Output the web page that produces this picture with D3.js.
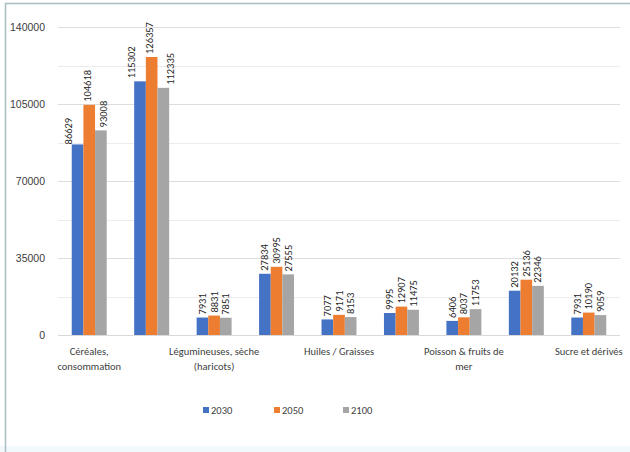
<!DOCTYPE html>
<html>
<head>
<meta charset="utf-8">
<script src="https://cdn.jsdelivr.net/npm/d3@7"></script>
<style>
  html, body { margin: 0; padding: 0; background: #ffffff; }
  svg { display: block; font-family: Calibri, Carlito, "Liberation Sans", "Open Sans", sans-serif; }
</style>
</head>
<body>
<svg id="chart" width="630" height="452"></svg>
<script>
// Food demand projections by product group
const categories = [
  "Céréales, consommation",
  "Racines & tubercules",
  "Légumineuses, sèche (haricots)",
  "Légumes",
  "Huiles / Graisses",
  "Viandes",
  "Poisson & fruits de mer",
  "Lait & produits laitiers",
  "Sucre et dérivés"
];
// Category labels as wrapped on the axis (only every other one fits)
const axisLabels = [
  ["Céréales,", "consommation"],
  [],
  ["Légumineuses, sèche", "(haricots)"],
  [],
  ["Huiles / Graisses"],
  [],
  ["Poisson & fruits de", "mer"],
  [],
  ["Sucre et dérivés"]
];
const seriesNames = ["2030", "2050", "2100"];
const values2030 = [86629, 115302, 7931, 27834, 7077, 9995, 6406, 20132, 7931];
const values2050 = [104618, 126357, 8831, 30995, 9171, 12907, 8037, 25136, 10190];
const values2100 = [93008, 112335, 7851, 27555, 8153, 11475, 11753, 22346, 9059];
const yTicks = [0, 35000, 70000, 105000, 140000];
const colors = ["#4472C4", "#ED7D31", "#A5A5A5"];

// Hand-placed label offsets for the two tall groups, where labels would collide
const labelNudge = {
  "0-0": [-9, 3], "0-1": [-1.5, 0], "0-2": [2.5, 0],
  "1-0": [-9, 0], "1-1": [-2, 0], "1-2": [7, 0]
};

const series = [values2030, values2050, values2100];
const svg = d3.select("#chart");

// Frame lines
svg.append("rect").attr("x", 0).attr("y", 446).attr("width", 630).attr("height", 6).attr("fill", "#f2f9fc");
svg.append("line").attr("x1", 5).attr("x2", 630).attr("y1", 3.5).attr("y2", 3.5)
  .attr("stroke", "#a9bcc4").attr("stroke-width", 1.5);
svg.append("line").attr("x1", 5.5).attr("x2", 5.5).attr("y1", 3).attr("y2", 452)
  .attr("stroke", "#a9bcc4").attr("stroke-width", 1.5);

const plot = { left: 58, right: 620, top: 27, bottom: 335 };

const x = d3.scaleBand().domain(categories).range([plot.left, plot.right])
  .paddingInner(0.44).paddingOuter(0.22);
const xs = d3.scaleBand().domain(seriesNames).range([0, x.bandwidth()]);
const y = d3.scaleLinear().domain([0, 140000]).range([plot.bottom, plot.top]);

// Gridlines (major and minor)
const gridVals = d3.range(17500, 140001, 17500);
svg.append("g").selectAll("line").data(gridVals).join("line")
  .attr("x1", plot.left).attr("x2", plot.right)
  .attr("y1", d => Math.round(y(d)) + 0.5).attr("y2", d => Math.round(y(d)) + 0.5)
  .attr("stroke", d => d % 35000 === 0 ? "#dedede" : "#ececec").attr("stroke-width", 1.2);

// Y axis labels
const yAxis = d3.axisLeft(y).tickValues(yTicks).tickSize(0).tickPadding(13).tickFormat(d3.format("d"));
const yg = svg.append("g").attr("transform", `translate(${plot.left},0)`).call(yAxis);
yg.select(".domain").remove();
yg.selectAll("text").attr("fill", "#404040").attr("font-size", 10.5);

// Baseline
svg.append("line").attr("x1", plot.left).attr("x2", plot.right)
  .attr("y1", plot.bottom + 0.5).attr("y2", plot.bottom + 0.5)
  .attr("stroke", "#d9d9d9").attr("stroke-width", 1);

// Bars and value labels
const groups = svg.append("g").selectAll("g").data(categories).join("g")
  .attr("transform", d => `translate(${x(d)},0)`);

series.forEach((vals, si) => {
  groups.append("rect")
    .attr("x", xs(seriesNames[si]))
    .attr("width", xs.bandwidth())
    .attr("y", (d, i) => y(vals[i]))
    .attr("height", (d, i) => y(0) - y(vals[i]))
    .attr("fill", colors[si]);
  groups.append("text")
    .attr("transform", (d, i) => {
      const n = labelNudge[`${i}-${si}`] || [0, 0];
      return `translate(${xs(seriesNames[si]) + xs.bandwidth() / 2 + 3.5 + n[0]},${y(vals[i]) - 3 + n[1]}) rotate(-90)`;
    })
    .attr("font-size", 10.5)
    .attr("fill", "#262626")
    .text((d, i) => vals[i]);
});

// X axis category labels
const xl = svg.append("g").selectAll("text").data(categories).join("text")
  .attr("x", d => x(d) + x.bandwidth() / 2)
  .attr("y", 355)
  .attr("text-anchor", "middle")
  .attr("font-size", 10.5)
  .attr("fill", "#404040");
xl.each(function (d, i) {
  const t = d3.select(this);
  axisLabels[i].forEach((line, li) => {
    t.append("tspan").attr("x", x(d) + x.bandwidth() / 2).attr("dy", li === 0 ? 0 : 15).text(line);
  });
});

// Legend
const legendX = [203, 274, 343];
const lg = svg.append("g").selectAll("g").data(seriesNames).join("g")
  .attr("transform", (d, i) => `translate(${legendX[i]},410)`);
lg.append("rect").attr("x", 0).attr("y", -3).attr("width", 6).attr("height", 6)
  .attr("fill", (d, i) => colors[i]);
lg.append("text").attr("x", 8).attr("y", 3.5).attr("font-size", 10.5).attr("fill", "#404040").text(d => d);
</script>
</body>
</html>
